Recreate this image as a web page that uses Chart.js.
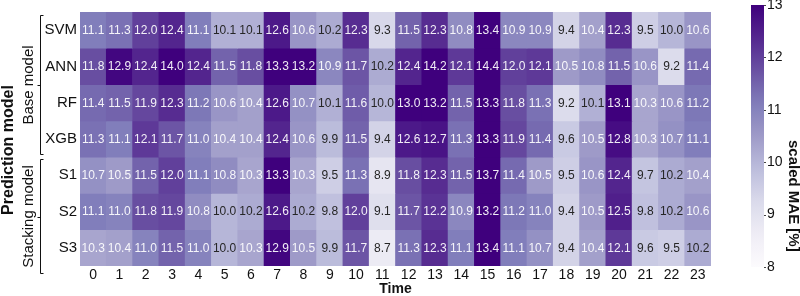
<!DOCTYPE html>
<html lang="en">
<head>
  <meta charset="UTF-8">
  <title>Scaled MAE heatmap</title>
  <script src="https://cdn.jsdelivr.net/npm/chart.js"></script>
  <style>
    html, body { margin: 0; padding: 0; background: #fff; }
    #wrap { width: 800px; height: 296px; }
  </style>
</head>
<body>
  <div id="wrap"><canvas id="myChart" width="800" height="296"></canvas></div>

  <script>
    const hours = ['0','1','2','3','4','5','6','7','8','9','10','11','12','13','14','15','16','17','18','19','20','21','22','23'];
    const models = ['SVM', 'ANN', 'RF', 'XGB', 'S1', 'S2', 'S3'];

    const svm = [11.1, 11.3, 12.0, 12.4, 11.1, 10.1, 10.1, 12.6, 10.6, 10.2, 12.3, 9.3, 11.5, 12.3, 10.8, 13.4, 10.9, 10.9, 9.4, 10.4, 12.3, 9.5, 10.0, 10.6];
    const ann = [11.8, 12.9, 12.4, 14.0, 12.4, 11.5, 11.8, 13.3, 13.2, 10.9, 11.7, 10.2, 12.4, 14.2, 12.1, 14.4, 12.0, 12.1, 10.5, 10.8, 11.5, 10.6, 9.2, 11.4];
    const rf  = [11.4, 11.5, 11.9, 12.3, 11.2, 10.6, 10.4, 12.6, 10.7, 10.1, 11.6, 10.0, 13.0, 13.2, 11.5, 13.3, 11.8, 11.3, 9.2, 10.1, 13.1, 10.3, 10.6, 11.2];
    const xgb = [11.3, 11.1, 12.1, 11.7, 11.0, 10.4, 10.4, 12.4, 10.6, 9.9, 11.5, 9.4, 12.6, 12.7, 11.3, 13.3, 11.9, 11.4, 9.6, 10.5, 12.8, 10.3, 10.7, 11.1];
    const s1  = [10.7, 10.5, 11.5, 12.0, 11.1, 10.8, 10.3, 13.3, 10.3, 9.5, 11.3, 8.9, 11.8, 12.3, 11.5, 13.7, 11.4, 10.5, 9.5, 10.6, 12.4, 9.7, 10.2, 10.4];
    const s2  = [11.1, 11.0, 11.8, 11.9, 10.8, 10.0, 10.2, 12.6, 10.2, 9.8, 12.0, 9.1, 11.7, 12.2, 10.9, 13.2, 11.2, 11.0, 9.4, 10.5, 12.5, 9.8, 10.2, 10.6];
    const s3  = [10.3, 10.4, 11.0, 11.5, 11.0, 10.0, 10.3, 12.9, 10.5, 9.9, 11.7, 8.7, 11.3, 12.3, 11.1, 13.4, 11.1, 10.7, 9.4, 10.4, 12.1, 9.6, 9.5, 10.2];
    const rows = [svm, ann, rf, xgb, s1, s2, s3];

    const colorTicks = [8, 9, 10, 11, 12, 13];
    const vmin = 8, vmax = 13;

    // matplotlib "Purples"
    const purples = [
      [252, 251, 253], [239, 237, 245], [218, 218, 235], [188, 189, 220],
      [158, 154, 200], [128, 125, 186], [106, 81, 163], [84, 39, 143], [63, 0, 125]
    ];
    function cmap(v) {
      let t = (v - vmin) / (vmax - vmin);
      t = Math.max(0, Math.min(1, t));
      const p = t * (purples.length - 1);
      const i = Math.min(Math.floor(p), purples.length - 2);
      const f = p - i;
      const a = purples[i], b = purples[i + 1];
      return 'rgb(' + a.map((c, k) => Math.round(c + (b[k] - c) * f)).join(',') + ')';
    }

    const FONT = "'Liberation Sans', Arial, sans-serif";

    const decor = {
      id: 'decor',
      afterDatasetsDraw(chart) {
        const ctx = chart.ctx;
        // cell values
        ctx.save();
        ctx.font = '12px ' + FONT;
        ctx.textAlign = 'center';
        ctx.textBaseline = 'middle';
        rows.forEach((vals, r) => {
          const meta = chart.getDatasetMeta(r);
          meta.data.forEach((bar, c) => {
            const v = vals[c];
            ctx.fillStyle = v >= 10.25 ? 'rgba(255,255,255,0.92)' : '#262626';
            ctx.fillText(v.toFixed(1), bar.x, (bar.y + bar.base) / 2 + 0.5);
          });
        });
        ctx.restore();
      },
      afterDraw(chart) {
        const ctx = chart.ctx;
        const y = chart.scales.y;
        ctx.save();
        ctx.strokeStyle = '#111';
        ctx.lineWidth = 1;
        // group brackets
        const bx = 40.5;
        function bracket(top, bottom) {
          const mid = Math.round((top + bottom) / 2) + 0.5;
          ctx.beginPath();
          ctx.moveTo(bx + 3, top);
          ctx.lineTo(bx, top);
          ctx.lineTo(bx, bottom);
          ctx.lineTo(bx + 3, bottom);
          ctx.moveTo(bx, mid);
          ctx.lineTo(bx - 3, mid);
          ctx.stroke();
        }
        const bTop = Math.round(y.getPixelForValue(0.08)) + 0.5;
        const bBot = Math.round(y.getPixelForValue(3.9)) + 0.5;
        const sTop = Math.round(y.getPixelForValue(4.05)) + 0.5;
        const sBot = Math.round(y.getPixelForValue(7.2)) + 0.5;
        bracket(bTop, bBot);
        bracket(sTop, sBot);

        ctx.fillStyle = '#111';
        ctx.textAlign = 'center';
        ctx.textBaseline = 'middle';
        function vtext(txt, x, cy, font, angle) {
          ctx.save();
          ctx.translate(x, cy);
          ctx.rotate(angle);
          ctx.font = font;
          ctx.fillText(txt, 0, 0);
          ctx.restore();
        }
        vtext('Base model', 29, (bTop + bBot) / 2, '15px ' + FONT, -Math.PI / 2);
        vtext('Stacking model', 29, (sTop + sBot) / 2, '15px ' + FONT, -Math.PI / 2);
        vtext('Prediction model', 9, 150, 'bold 16px ' + FONT, -Math.PI / 2);

        // colour bar
        const cx0 = 751, cx1 = 764, cTop = 5, cBot = 267;
        const g = ctx.createLinearGradient(0, cBot, 0, cTop);
        for (let k = 0; k <= 20; k++) {
          g.addColorStop(k / 20, cmap(vmin + (vmax - vmin) * k / 20));
        }
        ctx.fillStyle = g;
        ctx.fillRect(cx0, cTop, cx1 - cx0, cBot - cTop);
        ctx.font = '14px ' + FONT;
        ctx.textAlign = 'left';
        ctx.fillStyle = '#111';
        ctx.strokeStyle = '#444';
        colorTicks.forEach(t => {
          const py = cBot - (t - vmin) / (vmax - vmin) * (cBot - cTop);
          ctx.beginPath();
          ctx.moveTo(cx1, Math.round(py) + 0.5);
          ctx.lineTo(cx1 + 2, Math.round(py) + 0.5);
          ctx.stroke();
          ctx.fillText(String(t), cx1 + 3, py);
        });
        vtext('scaled MAE [%]', 793, 140, 'bold 15px ' + FONT, Math.PI / 2);
        ctx.restore();
      }
    };

    const ctx = document.getElementById('myChart').getContext('2d');

    new Chart(ctx, {
      type: 'bar',
      data: {
        labels: hours,
        datasets: rows.map((vals, r) => ({
          label: models[r],
          data: vals.map(() => 1),
          backgroundColor: vals.map(cmap),
          borderWidth: 0,
          barPercentage: 1,
          categoryPercentage: 1
        }))
      },
      options: {
        responsive: false,
        animation: false,
        layout: { padding: { top: 5, right: 89, left: 0, bottom: 0 } },
        plugins: {
          legend: { display: false },
          tooltip: { enabled: false }
        },
        scales: {
          x: {
            stacked: true,
            grid: { display: false, drawTicks: false },
            border: { display: false },
            ticks: { font: { family: FONT, size: 14 }, color: '#111', padding: 1, maxRotation: 0, autoSkip: false },
            title: { display: true, text: 'Time', font: { family: FONT, size: 14, weight: 'bold', lineHeight: 1 }, color: '#111', padding: 0 },
            afterFit: (s) => { s.height = 30; }
          },
          y: {
            stacked: true,
            reverse: true,
            min: 0,
            max: 7,
            grid: { display: false, drawTicks: false },
            border: { display: false },
            afterBuildTicks: (s) => { s.ticks = models.map((m, i) => ({ value: i + 0.5 })); },
            ticks: {
              font: { family: FONT, size: 15 },
              color: '#111',
              padding: 3,
              callback: (v) => models[Math.floor(v)]
            },
            afterFit: (s) => { s.width = 80; }
          }
        }
      },
      plugins: [decor]
    });
  </script>
</body>
</html>
